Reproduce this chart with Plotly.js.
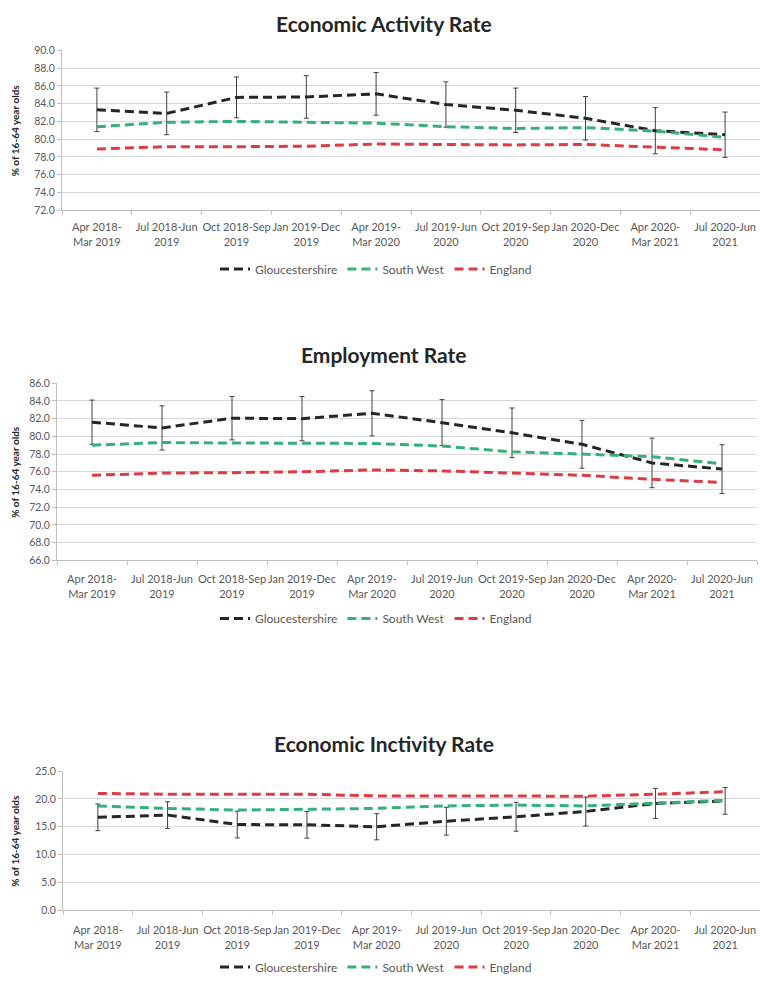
<!DOCTYPE html>
<html>
<head>
<meta charset="utf-8">
<script src="https://cdn.plot.ly/plotly-3.0.1.min.js"></script>
<style>
html,body{margin:0;padding:0;background:#ffffff;}
#chart{width:760px;height:982px;}
</style>
</head>
<body>
<div id="chart"></div>
<script>
// ---- data ----
const categories = [
  "Apr 2018-<br>Mar 2019", "Jul 2018-Jun<br>2019", "Oct 2018-Sep<br>2019", "Jan 2019-Dec<br>2019",
  "Apr 2019-<br>Mar 2020", "Jul 2019-Jun<br>2020", "Oct 2019-Sep<br>2020", "Jan 2020-Dec<br>2020",
  "Apr 2020-<br>Mar 2021", "Jul 2020-Jun<br>2021"
];
const seriesNames = ["Gloucestershire", "South West", "England"];
const chartTitles = ["Economic Activity Rate", "Employment Rate", "Economic Inctivity Rate"];
const yAxisTitle = "% of 16-64 year olds";

// Economic Activity Rate
const activityGlos    = [83.3, 82.9, 84.7, 84.75, 85.1, 83.9, 83.25, 82.35, 80.95, 80.5];
const activityGlosErr = [2.45, 2.4, 2.3, 2.4, 2.4, 2.55, 2.5, 2.45, 2.6, 2.55];
const activitySW      = [81.4, 81.9, 82.0, 81.9, 81.8, 81.4, 81.2, 81.3, 80.9, 80.2];
const activityEng     = [78.9, 79.15, 79.15, 79.2, 79.45, 79.4, 79.35, 79.4, 79.1, 78.8];

// Employment Rate
const employGlos    = [81.6, 80.95, 82.05, 82.0, 82.6, 81.55, 80.4, 79.1, 77.0, 76.3];
const employGlosErr = [2.5, 2.5, 2.45, 2.5, 2.55, 2.6, 2.8, 2.7, 2.8, 2.75];
const employSW      = [79.0, 79.3, 79.25, 79.25, 79.2, 78.9, 78.25, 78.0, 77.7, 76.9];
const employEng     = [75.6, 75.85, 75.9, 76.0, 76.2, 76.1, 75.85, 75.6, 75.15, 74.8];

// Economic Inactivity Rate
const inactGlos    = [16.7, 17.1, 15.4, 15.35, 15.0, 16.0, 16.8, 17.75, 19.2, 19.65];
const inactGlosErr = [2.4, 2.4, 2.4, 2.4, 2.35, 2.5, 2.6, 2.6, 2.7, 2.4];
const inactSW      = [18.75, 18.3, 18.0, 18.2, 18.3, 18.75, 18.9, 18.75, 19.2, 19.75];
const inactEng     = [21.0, 20.85, 20.85, 20.85, 20.55, 20.55, 20.55, 20.5, 20.85, 21.3];

// ---- styling ----
const W = 760, H = 982;
const FONT = "Lato, 'Open Sans', sans-serif";
const colors = ["#262626", "#35B07A", "#DB3C46"];
const dashPattern = "9px,5px";

const charts = [
  {glos: activityGlos, err: activityGlosErr, sw: activitySW, eng: activityEng,
   range: [72, 90], dtick: 2, xpx: [62, 760], ypx: [50.7, 211.7], titleY: 24, legendY: 271, standoff: 7},
  {glos: employGlos, err: employGlosErr, sw: employSW, eng: employEng,
   range: [66, 86], dtick: 2, xpx: [57, 757], ypx: [386, 564.3], titleY: 357, legendY: 623, standoff: 9},
  {glos: inactGlos, err: inactGlosErr, sw: inactSW, eng: inactEng,
   range: [0, 25], dtick: 5, xpx: [63, 760], ypx: [776.7, 916.7], titleY: 749, legendY: 974, standoff: 10}
];

const traces = [];
const layout = {
  width: W, height: H,
  margin: {l: 0, r: 0, t: 0, b: 0},
  paper_bgcolor: "#ffffff", plot_bgcolor: "#ffffff",
  font: {family: FONT, color: "#595959"},
  annotations: []
};

charts.forEach((c, i) => {
  const sfx = i === 0 ? "" : String(i + 1);
  const xa = "x" + sfx, ya = "y" + sfx, lg = "legend" + sfx;
  const vals = [c.glos, c.sw, c.eng];
  vals.forEach((v, k) => {
    const t = {
      type: "scatter", mode: "lines", x: categories, y: v,
      name: seriesNames[k], xaxis: xa, yaxis: ya, legend: lg,
      line: {color: colors[k], width: 3, dash: dashPattern},
      hoverinfo: "skip"
    };
    if (k === 0) {
      t.error_y = {type: "data", array: c.err, visible: true, color: "#404040", thickness: 1, width: 2.5};
    }
    traces.push(t);
  });
  layout["xaxis" + sfx] = {
    domain: [c.xpx[0] / W, c.xpx[1] / W], anchor: ya,
    type: "category", range: [-0.5, 9.5], tickson: "boundaries",
    ticks: "outside", ticklen: 4, tickcolor: "#BFBFBF", ticklabelstandoff: c.standoff,
    showline: true, linecolor: "#BFBFBF", linewidth: 1,
    showgrid: false, zeroline: false, tickangle: 0, automargin: false,
    tickfont: {family: FONT, size: 11, color: "#595959"}, fixedrange: true
  };
  layout["yaxis" + sfx] = {
    domain: [1 - c.ypx[1] / H, 1 - c.ypx[0] / H], anchor: xa,
    range: c.range, dtick: c.dtick, tick0: 0, tickformat: ".1f",
    ticks: "outside", ticklen: 4, tickcolor: "#BFBFBF",
    showline: true, linecolor: "#BFBFBF", linewidth: 1,
    showgrid: true, gridcolor: "#D9D9D9", gridwidth: 1, zeroline: false, automargin: false,
    tickfont: {family: FONT, size: 10.5, color: "#595959"}, fixedrange: true
  };
  layout[lg] = {
    orientation: "h", x: 376 / W, xanchor: "center", y: 1 - c.legendY / H, yanchor: "middle",
    bgcolor: "rgba(0,0,0,0)", font: {family: FONT, size: 12, color: "#595959"},
    itemwidth: 30, itemclick: false, itemdoubleclick: false
  };
  layout.annotations.push({
    xref: "paper", yref: "paper", x: 384 / W, y: 1 - c.titleY / H, xanchor: "center", yanchor: "middle",
    text: "<b>" + chartTitles[i] + "</b>", showarrow: false,
    font: {family: FONT, size: 21, color: "#262626"}
  });
  layout.annotations.push({
    xref: "paper", yref: "paper", x: 15 / W, y: 1 - ((c.ypx[0] + c.ypx[1]) / 2) / H,
    xanchor: "center", yanchor: "middle", textangle: -90,
    text: "<b>" + yAxisTitle + "</b>", showarrow: false,
    font: {family: FONT, size: 10, color: "#262626"}
  });
});

Plotly.newPlot("chart", traces, layout, {displayModeBar: false, staticPlot: true});
</script>
</body>
</html>
